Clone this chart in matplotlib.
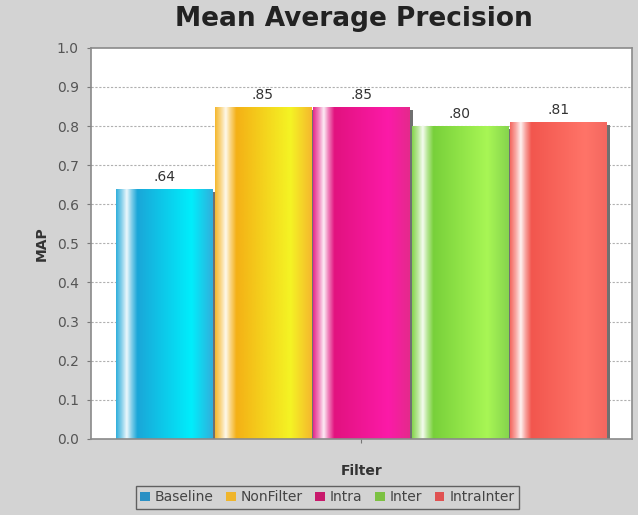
import matplotlib
matplotlib.use("Agg")
import matplotlib.pyplot as plt
import numpy as np
from matplotlib.colors import LinearSegmentedColormap, to_rgb
from matplotlib.patches import Patch

# Data
series = ["Baseline", "NonFilter", "Intra", "Inter", "IntraInter"]
map_values = [0.64, 0.85, 0.85, 0.80, 0.81]
value_labels = [".64", ".85", ".85", ".80", ".81"]
y_ticks = [0.0, 0.1, 0.2, 0.3, 0.4, 0.5, 0.6, 0.7, 0.8, 0.9, 1.0]

# Gradient colours per series: (dark side, light side) and legend swatch
dark_cols = ["#1aa6d8", "#f4b016", "#e2127f", "#78d03a", "#f2564e"]
light_cols = ["#00eefc", "#f4f424", "#fc1aa8", "#a8f655", "#ff7468"]
swatch_cols = ["#2b90c4", "#efb52c", "#c81a6c", "#7cc142", "#e05252"]

bg = "#d3d3d3"

fig = plt.figure(figsize=(6.38, 5.15), dpi=100, facecolor=bg)
ax = fig.add_axes([0.143, 0.148, 0.847, 0.759])
ax.set_facecolor("white")

n = len(series)
group_width = 0.911
w = group_width / n
xs = -group_width / 2 + w / 2 + np.arange(n) * w

ax.set_xlim(-0.5, 0.5)
ax.set_ylim(0, 1.0)

# horizontal dotted grid
for t in y_ticks[1:-1]:
    ax.axhline(t, color="#b0b0b0", lw=0.8, ls=(0, (2, 1.5)), zorder=0.5)

# shadows behind bars
shadow_dx = 0.006
ax.bar(xs + shadow_dx, map_values, width=w * 0.98, bottom=-0.008,
       color="#707070", zorder=1, linewidth=0)

bars = ax.bar(xs, map_values, width=w * 0.98, color="none", zorder=2, linewidth=0)

def lighten(c, f):
    r = np.array(to_rgb(c))
    return tuple(r + (1 - r) * f)

for rect, dc, lc in zip(bars, dark_cols, light_cols):
    x0, y0 = rect.get_x(), rect.get_y()
    bw, bh = rect.get_width(), rect.get_height()
    stops = [
        (0.0, lighten(dc, 0.1)),
        (0.06, lighten(dc, 0.5)),
        (0.11, lighten(dc, 0.92)),
        (0.16, lighten(dc, 0.45)),
        (0.22, dc),
        (0.78, lc),
        (1.0, lighten(dc, 0.1)),
    ]
    cmap = LinearSegmentedColormap.from_list("g", stops)
    grad = np.linspace(0, 1, 256).reshape(1, -1)
    im = ax.imshow(grad, cmap=cmap, aspect="auto", extent=(x0, x0 + bw, y0, y0 + bh),
                   zorder=2.5, interpolation="bilinear")
    im.set_clip_path(rect)

ax.set_xlim(-0.5, 0.5)
ax.set_ylim(0, 1.0)

for x, v, lab in zip(xs, map_values, value_labels):
    ax.text(x, v + 0.012, lab, ha="center", va="bottom", fontsize=10,
            color="#333333", zorder=3)

ax.set_yticks(y_ticks)
ax.set_yticklabels([f"{t:.1f}" for t in y_ticks], fontsize=10, color="#555555")
ax.set_xticks([0.0])
ax.set_xticklabels([""])
ax.tick_params(axis="both", colors="#777777", length=3, width=0.8,
               labelcolor="#555555", pad=6)

for s in ax.spines.values():
    s.set_color("#8a8a8a")
    s.set_linewidth(1.2)

ax.set_ylabel("MAP", fontsize=10, fontweight="bold", color="#333333", labelpad=6)
ax.set_xlabel("Filter", fontsize=10, fontweight="bold", color="#333333", labelpad=9)

fig.text(0.555, 0.963, "Mean Average Precision", ha="center", va="center",
         fontsize=19, fontweight="bold", color="#222222")

handles = [Patch(facecolor=c, edgecolor="none", label=s) for s, c in zip(series, swatch_cols)]
leg = fig.legend(handles=handles, loc="center", bbox_to_anchor=(0.513, 0.034), ncol=n,
                 fontsize=10, frameon=True, fancybox=False, handlelength=0.7,
                 handleheight=0.7, handletextpad=0.35, columnspacing=0.9,
                 borderpad=0.3, borderaxespad=0)
leg.get_frame().set_edgecolor("#444444")
leg.get_frame().set_facecolor(bg)
leg.get_frame().set_linewidth(1.0)
for t in leg.get_texts():
    t.set_color("#444444")

fig.savefig("out.png", dpi=100, facecolor=bg)
